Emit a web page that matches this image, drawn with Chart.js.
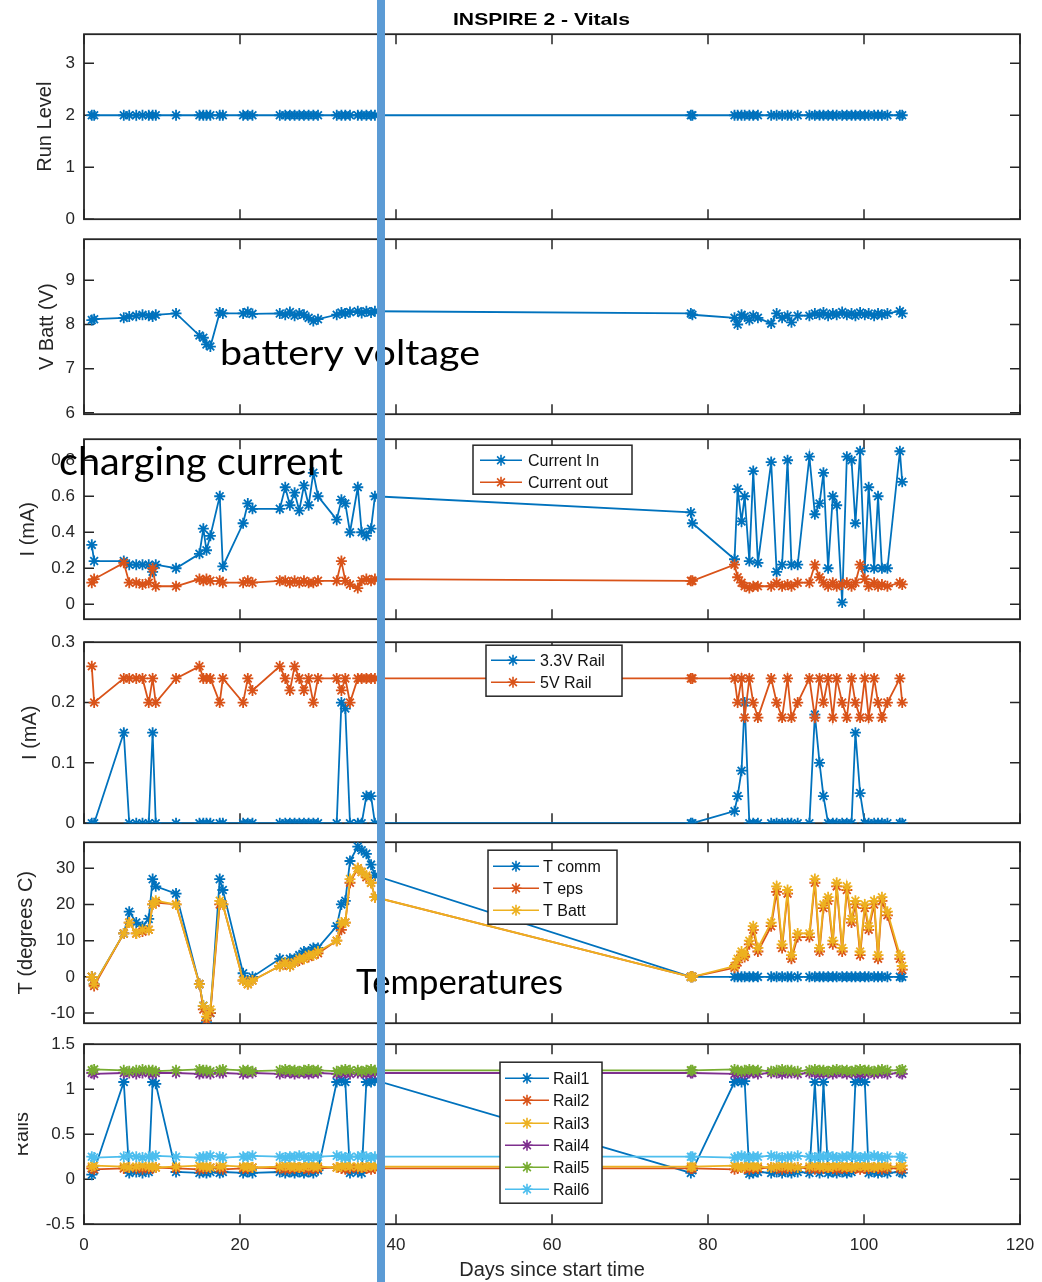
<!DOCTYPE html>
<html lang="en">
<head>
<meta charset="UTF-8">
<title>INSPIRE 2 - Vitals</title>
<script src="https://cdn.jsdelivr.net/npm/chart.js@4.4.1/dist/chart.umd.min.js"></script>
<style>
  html, body { margin: 0; padding: 0; background: #fff; }
  #page { position: relative; width: 1042px; height: 1282px; overflow: hidden; }
  #page canvas { position: absolute; left: 0; }
  #overlay { top: 0; pointer-events: none; }
</style>
</head>
<body>
<div id="page">
  <canvas id="overlay" width="1042" height="1282"></canvas>
</div>
<script>
// ---- data (days since start time, shared by every panel) ----
const days = [1.0, 1.3, 5.1, 5.8, 6.7, 7.5, 8.3, 8.8, 9.2, 11.8,
  14.8, 15.3, 15.7, 16.2, 17.4, 17.8, 20.4, 21.0, 21.6, 25.1,
  25.8, 26.4, 27.0, 27.6, 28.2, 28.8, 29.4, 30.0, 32.4, 33.0,
  33.5, 34.1, 35.1, 35.6, 36.2, 36.8, 37.3, 77.8, 78.0, 83.4,
  83.8, 84.3, 84.7, 85.3, 85.8, 86.4, 88.1, 88.8, 89.5, 90.2,
  90.7, 91.5, 93.0, 93.7, 94.3, 94.8, 95.4, 96.0, 96.5, 97.2,
  97.8, 98.4, 98.9, 99.5, 100.1, 100.6, 101.3, 101.8, 102.3, 103.0,
  104.6, 104.9];

const runLevel = [2, 2, 2, 2, 2, 2, 2, 2, 2, 2,
  2, 2, 2, 2, 2, 2, 2, 2, 2, 2,
  2, 2, 2, 2, 2, 2, 2, 2, 2, 2,
  2, 2, 2, 2, 2, 2, 2, 2, 2, 2,
  2, 2, 2, 2, 2, 2, 2, 2, 2, 2,
  2, 2, 2, 2, 2, 2, 2, 2, 2, 2,
  2, 2, 2, 2, 2, 2, 2, 2, 2, 2,
  2, 2];

const vBatt = [8.1, 8.12, 8.15, 8.18, 8.2, 8.22, 8.2, 8.18, 8.22, 8.25,
  7.75, 7.7, 7.55, 7.5, 8.27, 8.25, 8.25, 8.28, 8.24, 8.25,
  8.22, 8.28, 8.2, 8.25, 8.22, 8.15, 8.08, 8.12, 8.22, 8.27,
  8.25, 8.28, 8.3, 8.26, 8.3, 8.27, 8.3, 8.25, 8.22, 8.15,
  8.0, 8.22, 8.18, 8.1, 8.2, 8.15, 8.02, 8.25, 8.15, 8.2,
  8.05, 8.2, 8.2, 8.25, 8.22, 8.27, 8.2, 8.25, 8.22, 8.28,
  8.22, 8.25, 8.2, 8.27, 8.22, 8.25, 8.2, 8.25, 8.22, 8.25,
  8.3, 8.25];

const currentIn = [0.33, 0.24, 0.24, 0.22, 0.22, 0.22, 0.22, 0.18, 0.22, 0.2,
  0.28, 0.42, 0.3, 0.38, 0.6, 0.21, 0.45, 0.56, 0.53, 0.53,
  0.65, 0.55, 0.62, 0.52, 0.66, 0.55, 0.73, 0.6, 0.47, 0.58,
  0.56, 0.4, 0.65, 0.4, 0.38, 0.42, 0.6, 0.51, 0.45, 0.25,
  0.64, 0.46, 0.6, 0.24, 0.74, 0.23, 0.79, 0.18, 0.22, 0.8,
  0.22, 0.22, 0.82, 0.5, 0.56, 0.73, 0.2, 0.6, 0.55, 0.01,
  0.82, 0.8, 0.45, 0.85, 0.2, 0.65, 0.2, 0.6, 0.2, 0.2,
  0.85, 0.68];

const currentOut = [0.12, 0.14, 0.23, 0.12, 0.12, 0.11, 0.12, 0.2, 0.1, 0.1,
  0.14, 0.13, 0.14, 0.13, 0.13, 0.12, 0.12, 0.13, 0.12, 0.13,
  0.13, 0.12, 0.13, 0.12, 0.13, 0.12, 0.12, 0.13, 0.13, 0.24,
  0.13, 0.11, 0.09, 0.13, 0.14, 0.13, 0.14, 0.13, 0.13, 0.22,
  0.15, 0.12, 0.1, 0.09, 0.1, 0.1, 0.1, 0.12, 0.1, 0.11,
  0.1, 0.12, 0.12, 0.22, 0.15, 0.12, 0.1, 0.12, 0.1, 0.11,
  0.12, 0.1, 0.12, 0.22, 0.14, 0.1, 0.12, 0.1, 0.11, 0.1,
  0.12, 0.11];

const rail33 = [0, 0, 0.15, 0, 0, 0, 0, 0.15, 0, 0,
  0, 0, 0, 0, 0, 0, 0, 0, 0, 0,
  0, 0, 0, 0, 0, 0, 0, 0, 0, 0.2,
  0.19, 0, 0, 0, 0.045, 0.045, 0, 0, 0, 0.02,
  0.045, 0.087, 0.2, 0, 0, 0, 0, 0, 0, 0,
  0, 0, 0, 0.18, 0.1, 0.045, 0, 0, 0, 0,
  0, 0, 0.15, 0.05, 0, 0, 0, 0, 0, 0,
  0, 0];

const rail5v = [0.26, 0.2, 0.24, 0.24, 0.24, 0.24, 0.2, 0.24, 0.2, 0.24,
  0.26, 0.24, 0.24, 0.24, 0.2, 0.24, 0.2, 0.24, 0.22, 0.26,
  0.24, 0.22, 0.26, 0.24, 0.22, 0.24, 0.2, 0.24, 0.24, 0.22,
  0.24, 0.2, 0.24, 0.24, 0.24, 0.24, 0.24, 0.24, 0.24, 0.24,
  0.2, 0.24, 0.175, 0.24, 0.2, 0.175, 0.24, 0.2, 0.175, 0.24,
  0.175, 0.2, 0.24, 0.175, 0.24, 0.2, 0.24, 0.175, 0.24, 0.2,
  0.175, 0.24, 0.2, 0.175, 0.24, 0.175, 0.24, 0.2, 0.175, 0.2,
  0.24, 0.2];

const tComm = [0, -2, 12, 18, 15, 14, 16, 27, 25, 23,
  -2, -8, -12.5, -10, 27, 24, 1, -1, 0, 5,
  4, 5, 5, 6, 7, 7, 8, 8, 14, 20,
  21, 32, 36, 35, 34, 31, 28, 0, 0, 0,
  0, 0, 0, 0, 0, 0, 0, 0, 0, 0,
  0, 0, 0, 0, 0, 0, 0, 0, 0, 0,
  0, 0, 0, 0, 0, 0, 0, 0, 0, 0,
  0, 0];

const tEps = [0, -2.5, 12, 15, 12, 12.5, 13, 20, 20.5, 20,
  -2, -9, -12, -10, 20, 20, -1, -2, -1, 3,
  3.5, 3, 4, 4.5, 5, 5.5, 6, 6.5, 10, 13,
  15, 26, 30, 29, 27.5, 26, 22, 0, 0, 2.5,
  4, 6, 5.5, 9, 13, 7, 14, 23.5, 8, 23,
  5, 11, 11, 26, 7, 19, 21, 9, 25, 7,
  24, 15, 20, 6, 19, 13, 20, 5, 21, 17,
  5, 2];

const tBatt = [0, -2, 12, 15, 12, 13, 13, 20, 21, 20,
  -2, -8, -11, -9, 21, 20, -1, -2, -1, 3,
  4, 3, 4, 5, 5, 6, 6, 7, 10, 15,
  15, 27, 30, 29, 28, 26, 22, 0, 0, 3,
  5, 7, 6, 10, 14, 8, 15, 25, 9, 24,
  6, 12, 12, 27, 8, 20, 22, 10, 26, 8,
  25, 16, 21, 7, 20, 14, 21, 6, 22, 18,
  6, 3];

const rail1 = [0.05, 0.1, 1.08, 0.07, 0.08, 0.07, 0.08, 1.08, 1.06, 0.08,
  0.07, 0.08, 0.07, 0.08, 0.07, 0.08, 0.07, 0.08, 0.07, 0.08,
  0.07, 0.08, 0.07, 0.08, 0.07, 0.08, 0.07, 0.1, 1.08, 1.1,
  1.08, 0.07, 0.08, 0.07, 1.08, 1.08, 1.1, 0.07, 0.1, 1.08,
  1.1, 1.08, 1.09, 0.06, 0.07, 0.08, 0.07, 0.08, 0.07, 0.08,
  0.07, 0.08, 0.07, 1.08, 0.07, 1.08, 0.07, 0.08, 0.07, 0.08,
  0.07, 0.08, 1.08, 1.1, 1.08, 0.07, 0.08, 0.07, 0.08, 0.07,
  0.08, 0.07];

const rail2 = [0.12, 0.11, 0.12, 0.13, 0.12, 0.11, 0.12, 0.12, 0.13, 0.12,
  0.11, 0.12, 0.12, 0.13, 0.12, 0.11, 0.12, 0.12, 0.13, 0.12,
  0.11, 0.12, 0.12, 0.13, 0.12, 0.11, 0.12, 0.12, 0.13, 0.12,
  0.11, 0.12, 0.12, 0.13, 0.12, 0.11, 0.12, 0.12, 0.12, 0.11,
  0.12, 0.13, 0.12, 0.11, 0.12, 0.12, 0.13, 0.12, 0.11, 0.12,
  0.12, 0.13, 0.12, 0.11, 0.12, 0.12, 0.13, 0.12, 0.11, 0.12,
  0.12, 0.13, 0.12, 0.11, 0.12, 0.12, 0.13, 0.12, 0.11, 0.12,
  0.12, 0.11];

const rail3 = [0.14, 0.15, 0.14, 0.13, 0.14, 0.15, 0.14, 0.14, 0.13, 0.14,
  0.15, 0.14, 0.14, 0.13, 0.14, 0.15, 0.14, 0.14, 0.13, 0.14,
  0.15, 0.14, 0.14, 0.13, 0.14, 0.15, 0.14, 0.14, 0.13, 0.14,
  0.15, 0.14, 0.14, 0.13, 0.14, 0.15, 0.14, 0.14, 0.14, 0.15,
  0.14, 0.13, 0.14, 0.15, 0.14, 0.14, 0.13, 0.14, 0.15, 0.14,
  0.14, 0.13, 0.14, 0.15, 0.14, 0.14, 0.13, 0.14, 0.15, 0.14,
  0.14, 0.13, 0.14, 0.15, 0.14, 0.14, 0.13, 0.14, 0.15, 0.14,
  0.14, 0.15];

const rail4 = [1.18, 1.17, 1.18, 1.18, 1.17, 1.18, 1.18, 1.17, 1.18, 1.18,
  1.17, 1.18, 1.18, 1.17, 1.18, 1.18, 1.17, 1.18, 1.18, 1.17,
  1.18, 1.18, 1.17, 1.18, 1.18, 1.17, 1.18, 1.18, 1.17, 1.18,
  1.18, 1.17, 1.18, 1.18, 1.17, 1.18, 1.18, 1.18, 1.18, 1.17,
  1.18, 1.18, 1.17, 1.18, 1.18, 1.17, 1.18, 1.18, 1.17, 1.18,
  1.18, 1.17, 1.18, 1.18, 1.17, 1.18, 1.18, 1.17, 1.18, 1.18,
  1.17, 1.18, 1.18, 1.17, 1.18, 1.18, 1.17, 1.18, 1.18, 1.17,
  1.18, 1.17];

const rail5 = [1.21, 1.22, 1.21, 1.2, 1.21, 1.22, 1.21, 1.21, 1.2, 1.21,
  1.22, 1.21, 1.21, 1.2, 1.21, 1.22, 1.21, 1.21, 1.2, 1.21,
  1.22, 1.21, 1.21, 1.2, 1.21, 1.22, 1.21, 1.21, 1.2, 1.21,
  1.22, 1.21, 1.21, 1.2, 1.21, 1.22, 1.21, 1.21, 1.21, 1.22,
  1.21, 1.2, 1.21, 1.22, 1.21, 1.21, 1.2, 1.21, 1.22, 1.21,
  1.21, 1.2, 1.21, 1.22, 1.21, 1.21, 1.2, 1.21, 1.22, 1.21,
  1.21, 1.2, 1.21, 1.22, 1.21, 1.21, 1.2, 1.21, 1.22, 1.21,
  1.21, 1.22];

const rail6 = [0.25, 0.24, 0.25, 0.26, 0.25, 0.24, 0.25, 0.25, 0.26, 0.25,
  0.24, 0.25, 0.25, 0.26, 0.25, 0.24, 0.25, 0.25, 0.26, 0.25,
  0.24, 0.25, 0.25, 0.26, 0.25, 0.24, 0.25, 0.25, 0.26, 0.25,
  0.24, 0.25, 0.25, 0.26, 0.25, 0.24, 0.25, 0.25, 0.25, 0.24,
  0.25, 0.26, 0.25, 0.24, 0.25, 0.25, 0.26, 0.25, 0.24, 0.25,
  0.25, 0.26, 0.25, 0.24, 0.25, 0.25, 0.26, 0.25, 0.24, 0.25,
  0.25, 0.26, 0.25, 0.24, 0.25, 0.25, 0.26, 0.25, 0.24, 0.25,
  0.25, 0.24];

// tick labels
const xTicks = [0, 20, 40, 60, 80, 100, 120];
const runTicks = [0, 1, 2, 3];
const vBattTicks = [6, 7, 8, 9];
const currentTicks = [0, 0.2, 0.4, 0.6, 0.8];
const railCurrentTicks = [0, 0.1, 0.2, 0.3];
const tempTicks = [-10, 0, 10, 20, 30];
const railTicks = [-0.5, 0, 0.5, 1, 1.5];

// ---- look ----
const COLORS = ['#0072BD', '#D95319', '#EDB120', '#7E2F8E', '#77AC30', '#4DBEEE'];
const AXIS = '#262626';
const FONT = '"Liberation Sans", Arial, Helvetica, sans-serif';
const PLOT_LEFT = 84, PLOT_RIGHT = 1020;

const page = document.getElementById('page');
const overlay = document.getElementById('overlay');

function toPoints(vals) {
  return days.map((d, i) => ({ x: d, y: vals[i] }));
}

function drawStar(ctx, x, y, r) {
  const d = r * Math.SQRT1_2;
  ctx.beginPath();
  ctx.moveTo(x - r, y); ctx.lineTo(x + r, y);
  ctx.moveTo(x, y - r); ctx.lineTo(x, y + r);
  ctx.moveTo(x - d, y - d); ctx.lineTo(x + d, y + d);
  ctx.moveTo(x - d, y + d); ctx.lineTo(x + d, y - d);
  ctx.stroke();
}

// matlab style box with inward ticks on all four sides
const axesBox = {
  id: 'axesBox',
  beforeDatasetsDraw(chart) {
    const { ctx, chartArea: a, scales } = chart;
    ctx.save();
    ctx.strokeStyle = AXIS;
    ctx.lineWidth = 1.5;
    ctx.beginPath();
    xTicks.forEach(v => {
      const px = scales.x.getPixelForValue(v);
      ctx.moveTo(px, a.bottom); ctx.lineTo(px, a.bottom - 10);
      ctx.moveTo(px, a.top); ctx.lineTo(px, a.top + 10);
    });
    scales.y.ticks.forEach(t => {
      const py = scales.y.getPixelForValue(t.value);
      ctx.moveTo(a.left, py); ctx.lineTo(a.left + 10, py);
      ctx.moveTo(a.right, py); ctx.lineTo(a.right - 10, py);
    });
    ctx.stroke();
    ctx.lineWidth = 1.8;
    ctx.strokeRect(a.left, a.top, a.right - a.left, a.bottom - a.top);
    ctx.restore();
  }
};

// legend box inside the axes; coords are page pixels, mapped through the chart area
function makeLegend(lg, areaTop) {
  return {
    id: 'boxLegend',
    afterDatasetsDraw(chart) {
      if (!lg) return;
      const ctx = chart.ctx;
      const a = chart.chartArea;
      const sets = chart.data.datasets;
      ctx.save();
      ctx.translate(a.left - PLOT_LEFT, a.top - areaTop);
      ctx.fillStyle = '#fff';
      ctx.fillRect(lg.x, lg.y, lg.w, lg.h);
      ctx.strokeStyle = AXIS;
      ctx.lineWidth = 1.5;
      ctx.strokeRect(lg.x, lg.y, lg.w, lg.h);
      ctx.font = '16px ' + FONT;
      ctx.textBaseline = 'middle';
      lg.rows.forEach((ry, i) => {
        const c = sets[i].borderColor;
        ctx.strokeStyle = c;
        ctx.lineWidth = 1.6;
        ctx.beginPath();
        ctx.moveTo(lg.x0, ry); ctx.lineTo(lg.x1, ry);
        ctx.stroke();
        drawStar(ctx, (lg.x0 + lg.x1) / 2, ry, 5.5);
        ctx.fillStyle = '#111';
        ctx.fillText(sets[i].label, lg.tx, ry + 1);
      });
      ctx.restore();
    }
  };
}

function makePanel(p) {
  const canvas = document.createElement('canvas');
  const xh = p.showX ? 58 : 0;
  canvas.width = 1042;
  canvas.height = p.bottom - p.top + 30 + xh;
  page.insertBefore(canvas, overlay);

  const chart = new Chart(canvas, {
    type: 'line',
    data: {
      datasets: p.series.map((s, i) => ({
        label: s.label,
        data: toPoints(s.values),
        borderColor: COLORS[i],
        backgroundColor: COLORS[i],
        pointBorderColor: COLORS[i],
        borderWidth: 1.8,
        pointStyle: 'star',
        pointRadius: 5.5,
        pointBorderWidth: 1.8,
        fill: false,
        tension: 0,
        order: -i
      }))
    },
    options: {
      responsive: false,
      maintainAspectRatio: false,
      animation: false,
      events: [],
      layout: { padding: { left: 10, right: 22, top: 10, bottom: p.showX ? 0 : 10 } },
      plugins: { legend: { display: false }, tooltip: { enabled: false } },
      scales: {
        x: {
          type: 'linear', min: 0, max: 120,
          display: !!p.showX,
          afterBuildTicks: s => { s.ticks = xTicks.map(v => ({ value: v })); },
          afterFit: s => { s.height = xh; },
          grid: { display: false, drawTicks: false },
          border: { display: false },
          ticks: { color: AXIS, font: { family: FONT, size: 17 }, padding: 11, maxRotation: 0, autoSkip: false },
          title: { display: true, text: 'Days since start time', color: AXIS, font: { family: FONT, size: 20 }, padding: 0 }
        },
        y: {
          type: 'linear', min: p.min, max: p.max,
          afterBuildTicks: s => { s.ticks = p.ticks.map(v => ({ value: v })); },
          afterFit: s => { s.width = 74; },
          grid: { display: false, drawTicks: false },
          border: { display: false },
          ticks: { color: AXIS, font: { family: FONT, size: 17 }, padding: 9, autoSkip: false, callback: v => String(v) },
          title: { display: true, text: p.yTitle, color: AXIS, font: { family: FONT, size: 20 }, padding: { top: p.titlePad, bottom: 0 } }
        }
      }
    },
    plugins: [axesBox, makeLegend(p.legend, p.top)]
  });

  // make the plot box land exactly on the reference box
  const a = chart.chartArea;
  const dw = (PLOT_RIGHT - PLOT_LEFT) - (a.right - a.left);
  const dh = (p.bottom - p.top) - (a.bottom - a.top);
  if (dw || dh) chart.resize(canvas.width + dw, canvas.height + dh);
  const b = chart.chartArea;
  canvas.style.left = (PLOT_LEFT - b.left) + 'px';
  canvas.style.top = (p.top - b.top) + 'px';
}

makePanel({
  top: 34, bottom: 219, min: 0, max: 3.56, ticks: runTicks,
  yTitle: 'Run Level', titlePad: 23,
  series: [{ label: 'Run Level', values: runLevel }]
});

makePanel({
  top: 239, bottom: 414, min: 5.97, max: 9.93, ticks: vBattTicks,
  yTitle: 'V Batt (V)', titlePad: 25,
  series: [{ label: 'V Batt', values: vBatt }]
});

makePanel({
  top: 439, bottom: 619, min: -0.083, max: 0.917, ticks: currentTicks,
  yTitle: 'I (mA)', titlePad: 6,
  series: [
    { label: 'Current In', values: currentIn },
    { label: 'Current out', values: currentOut }
  ],
  legend: { x: 473, y: 445, w: 159, h: 49, rows: [460, 482], x0: 480, x1: 522, tx: 528 }
});

makePanel({
  top: 642, bottom: 823, min: 0, max: 0.3, ticks: railCurrentTicks,
  yTitle: 'I (mA)', titlePad: 8,
  series: [
    { label: '3.3V Rail', values: rail33 },
    { label: '5V Rail', values: rail5v }
  ],
  legend: { x: 486, y: 645, w: 136, h: 51, rows: [660, 682], x0: 491, x1: 535, tx: 540 }
});

makePanel({
  top: 842, bottom: 1023, min: -12.8, max: 37.2, ticks: tempTicks,
  yTitle: 'T (degrees C)', titlePad: 4,
  series: [
    { label: 'T comm', values: tComm },
    { label: 'T eps', values: tEps },
    { label: 'T Batt', values: tBatt }
  ],
  legend: { x: 488, y: 850, w: 129, h: 74, rows: [866, 888, 910], x0: 493, x1: 539, tx: 543 }
});

makePanel({
  top: 1044, bottom: 1224, min: -0.5, max: 1.5, ticks: railTicks,
  yTitle: 'Rails', titlePad: 0, showX: true,
  series: [
    { label: 'Rail1', values: rail1 },
    { label: 'Rail2', values: rail2 },
    { label: 'Rail3', values: rail3 },
    { label: 'Rail4', values: rail4 },
    { label: 'Rail5', values: rail5 },
    { label: 'Rail6', values: rail6 }
  ],
  legend: { x: 500, y: 1062, w: 102, h: 141, rows: [1078, 1100, 1123, 1145, 1167, 1189], x0: 505, x1: 549, tx: 553 }
});

// ---- title, slide annotations and marker line ----
const ov = overlay.getContext('2d');

function fitText(text, font, x, baseline, width) {
  ov.font = font;
  const w = ov.measureText(text).width;
  ov.save();
  ov.translate(x, baseline);
  ov.scale(width / w, 1);
  ov.fillText(text, 0, 0);
  ov.restore();
}

// the slide crops the left edge of the "Rails" label
ov.fillStyle = '#fff';
ov.fillRect(0, 1090, 18, 80);

ov.fillStyle = '#000';
fitText('INSPIRE 2 - Vitals', 'bold 17px ' + FONT, 453, 25, 177);
fitText('battery voltage', '34px Lato, "Open Sans", sans-serif', 220, 365, 260);
fitText('charging current', '39px Lato, "Open Sans", sans-serif', 59, 475, 284);
fitText('Temperatures', '34px Lato, "Open Sans", sans-serif', 356, 994, 207);

ov.fillStyle = '#5B9BD5';
ov.fillRect(377, 0, 8, 1282);
</script>
</body>
</html>
